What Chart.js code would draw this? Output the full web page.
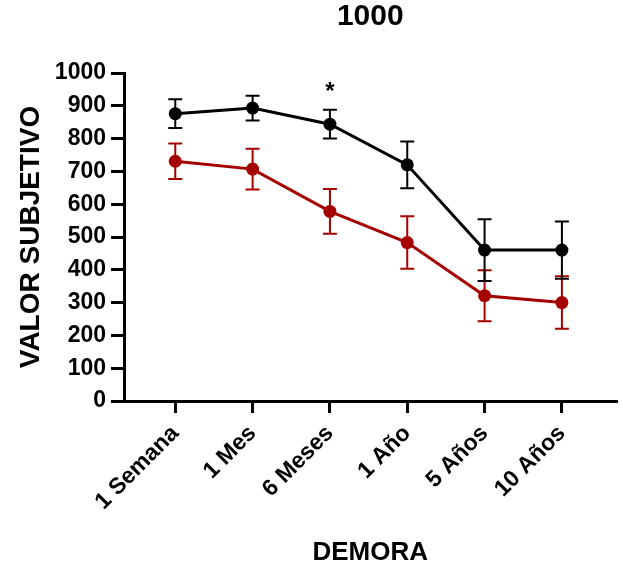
<!DOCTYPE html>
<html>
<head>
<meta charset="utf-8">
<script src="https://cdn.jsdelivr.net/npm/chart.js@4"></script>
<style>
  body { margin: 0; background: #fff; }
  #wrap { width: 623px; height: 566px; }
</style>
</head>
<body>
<div id="wrap"><canvas id="myChart"></canvas></div>
<script>
const categories = ['1 Semana', '1 Mes', '6 Meses', '1 Año', '5 Años', '10 Años'];
const yTicks = [0, 100, 200, 300, 400, 500, 600, 700, 800, 900, 1000];

const blackValues = [876, 893, 844, 720, 460, 460];
const blackErrors = [44, 38, 44, 71, 94, 87];
const redValues = [731, 707, 578, 483, 321, 300];
const redErrors = [54, 62, 68, 80, 78, 80];
const sigIndex = 2; // el asterisco de 6 Meses

const FONT = '"Liberation Sans", Arial, Helvetica, sans-serif';

function toPoints(values){
    return values.map((v, i) => ({ x: i, y: v }));
}

const errorBars = {
    id: 'errorBars',
    beforeDatasetDraw(chart, args){
        const ds = chart.data.datasets[args.index];
        const yScale = chart.scales.y;
        const ctx = chart.ctx;
        ctx.save();
        ctx.strokeStyle = ds.borderColor;
        ctx.lineWidth = 2;
        args.meta.data.forEach((pt, i) => {
            const v = ds.data[i].y;
            const e = ds.errors[i];
            const top = yScale.getPixelForValue(v + e);
            const bot = yScale.getPixelForValue(v - e);
            ctx.beginPath();
            ctx.moveTo(pt.x, top); ctx.lineTo(pt.x, bot);
            ctx.moveTo(pt.x - 7, top); ctx.lineTo(pt.x + 7, top);
            ctx.moveTo(pt.x - 7, bot); ctx.lineTo(pt.x + 7, bot);
            ctx.stroke();
        });
        ctx.restore();
    }
};

const asterisk = {
    id: 'asterisk',
    afterDatasetsDraw(chart){
        const ctx = chart.ctx;
        const x = chart.scales.x.getPixelForValue(sigIndex);
        const y = chart.scales.y.getPixelForValue(blackValues[sigIndex] + blackErrors[sigIndex]) - 17;
        ctx.save();
        ctx.fillStyle = '#000';
        ctx.font = 'bold 24px ' + FONT;
        ctx.textAlign = 'center';
        ctx.textBaseline = 'middle';
        ctx.fillText('*', x, y);
        ctx.restore();
    }
};

function getChart(){
    const ctx = document.getElementById('myChart');

    new Chart(ctx, {
        type: 'line',
        data: {
            datasets: [{
                label: 'negro',
                data: toPoints(blackValues),
                errors: blackErrors,
                borderColor: '#000000',
                backgroundColor: '#000000',
                borderWidth: 3,
                pointRadius: 6.5,
                pointBorderWidth: 0,
                pointHoverRadius: 6.5
            }, {
                label: 'rojo',
                data: toPoints(redValues),
                errors: redErrors,
                borderColor: '#a50000',
                backgroundColor: '#a50000',
                borderWidth: 3,
                pointRadius: 6.5,
                pointBorderWidth: 0,
                pointHoverRadius: 6.5
            }]
        },
        options: {
            responsive: true,
            maintainAspectRatio: false,
            animation: false,
            layout: { padding: { left: 0, right: 6, top: 0, bottom: 0 } },
            plugins: {
                legend: { display: false },
                tooltip: { enabled: false },
                title: {
                    display: true,
                    text: '1000',
                    color: '#000',
                    fullSize: false,
                    font: { family: FONT, size: 30, weight: 'bold', lineHeight: 1.1 },
                    padding: { top: 0, bottom: 40 }
                }
            },
            scales: {
                x: {
                    type: 'linear',
                    min: -0.663,
                    max: 5.706,
                    afterBuildTicks(scale){
                        scale.ticks = categories.map((c, i) => ({ value: i }));
                    },
                    afterFit(scale){ scale.height = 165; },
                    ticks: {
                        color: '#000',
                        minRotation: 45,
                        maxRotation: 45,
                        padding: 7,
                        autoSkip: false,
                        font: { family: FONT, size: 23, weight: 'bold' },
                        callback: (value) => categories[value]
                    },
                    grid: { drawOnChartArea: false, tickLength: 12, lineWidth: 3, color: '#000' },
                    border: { display: true, width: 3, color: '#000' },
                    title: {
                        display: true,
                        text: 'DEMORA',
                        color: '#000',
                        font: { family: FONT, size: 26, weight: 'bold', lineHeight: 1.0 },
                        padding: { top: 0, bottom: 0 }
                    }
                },
                y: {
                    min: 0,
                    max: 1000,
                    afterBuildTicks(scale){
                        scale.ticks = yTicks.map(v => ({ value: v }));
                    },
                    afterFit(scale){ scale.width = 124; },
                    ticks: {
                        color: '#000',
                        padding: 5,
                        font: { family: FONT, size: 23, weight: 'bold' },
                        callback: (value) => String(value)
                    },
                    grid: { drawOnChartArea: false, tickLength: 13, lineWidth: 3, color: '#000' },
                    border: { display: true, width: 3, color: '#000' },
                    title: {
                        display: true,
                        text: 'VALOR SUBJETIVO',
                        color: '#000',
                        font: { family: FONT, size: 28, weight: 'bold', lineHeight: 1.2 },
                        padding: { top: 14, bottom: 0 }
                    }
                }
            }
        },
        plugins: [errorBars, asterisk]
    });
}

document.addEventListener('DOMContentLoaded', (event) => {
    getChart();
});
</script>
</body>
</html>
